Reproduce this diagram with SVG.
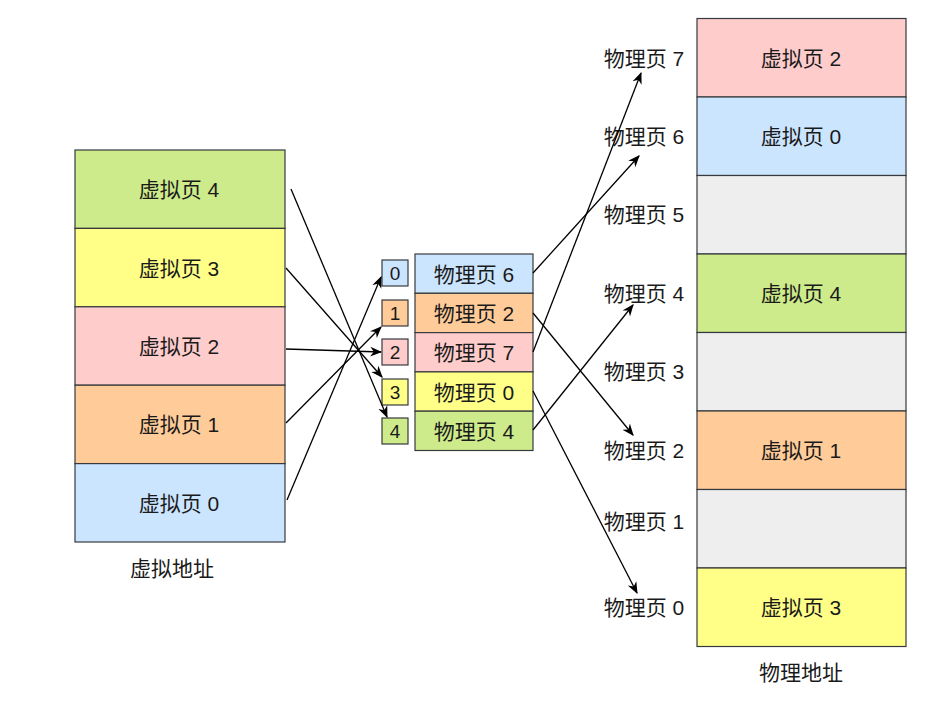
<svg xmlns="http://www.w3.org/2000/svg" width="940" height="703" viewBox="0 0 940 703">
<style>
text{font-family:"Liberation Sans","Noto Sans CJK SC",sans-serif;font-size:21px;fill:#1a1a1a;text-anchor:middle;dominant-baseline:central}
.s{font-size:19px}
rect{stroke:#36393d;stroke-width:1.2}
.g{fill:#cdeb8b}.y{fill:#ffff88}.p{fill:#ffcccc}.o{fill:#ffcc99}.b{fill:#cce5ff}.e{fill:#eeeeee}
.c line{stroke:#000;stroke-width:1.3;marker-end:url(#a)}
</style>
<defs>
<marker id="a" viewBox="0 0 10 10" refX="9" refY="5" markerWidth="12" markerHeight="12" markerUnits="userSpaceOnUse" orient="auto">
<path d="M0,1 L10,5 L0,9 L3,5 Z" fill="#000"/>
</marker>
</defs>
<rect width="940" height="703" fill="#fff" style="stroke:none"/>
<g id="virtual">
<g id="v4"><rect class="g" x="75" y="150" width="210" height="78.4"/><text x="179" y="189">虚拟页 4</text></g>
<g id="v3"><rect class="y" x="75" y="228.4" width="210" height="78.4"/><text x="179" y="268">虚拟页 3</text></g>
<g id="v2"><rect class="p" x="75" y="306.8" width="210" height="78.4"/><text x="179" y="346">虚拟页 2</text></g>
<g id="v1"><rect class="o" x="75" y="385.2" width="210" height="78.4"/><text x="179" y="424">虚拟页 1</text></g>
<g id="v0"><rect class="b" x="75" y="463.6" width="210" height="78.4"/><text x="179" y="503">虚拟页 0</text></g>
<text x="172" y="568">虚拟地址</text>
</g>
<g id="index">
<g id="i0"><rect class="b" x="382" y="260" width="26" height="26"/><text class="s" x="395" y="273">0</text></g>
<g id="i1"><rect class="o" x="382" y="300" width="26" height="26"/><text class="s" x="395" y="313">1</text></g>
<g id="i2"><rect class="p" x="382" y="339" width="26" height="26"/><text class="s" x="395" y="352">2</text></g>
<g id="i3"><rect class="y" x="382" y="379" width="26" height="26"/><text class="s" x="395" y="392">3</text></g>
<g id="i4"><rect class="g" x="382" y="418" width="26" height="26"/><text class="s" x="395" y="431">4</text></g>
</g>
<g id="table">
<g id="t0"><rect class="b" x="415" y="254" width="118" height="39.3"/><text x="474" y="274">物理页 6</text></g>
<g id="t1"><rect class="o" x="415" y="293.3" width="118" height="39.3"/><text x="474" y="313">物理页 2</text></g>
<g id="t2"><rect class="p" x="415" y="332.6" width="118" height="39.3"/><text x="474" y="352">物理页 7</text></g>
<g id="t3"><rect class="y" x="415" y="371.9" width="118" height="39.3"/><text x="474" y="392">物理页 0</text></g>
<g id="t4"><rect class="g" x="415" y="411.2" width="118" height="39.3"/><text x="474" y="431">物理页 4</text></g>
</g>
<g id="physical">
<g id="p7"><rect class="p" x="697" y="18.5" width="209" height="78.5"/><text x="801" y="58">虚拟页 2</text></g>
<g id="p6"><rect class="b" x="697" y="97" width="209" height="78.5"/><text x="801" y="136">虚拟页 0</text></g>
<g id="p5"><rect class="e" x="697" y="175.5" width="209" height="78.5"/></g>
<g id="p4"><rect class="g" x="697" y="254" width="209" height="78.5"/><text x="801" y="293">虚拟页 4</text></g>
<g id="p3"><rect class="e" x="697" y="332.5" width="209" height="78.5"/></g>
<g id="p2"><rect class="o" x="697" y="411" width="209" height="78.5"/><text x="801" y="450">虚拟页 1</text></g>
<g id="p1"><rect class="e" x="697" y="489.5" width="209" height="78.5"/></g>
<g id="p0"><rect class="y" x="697" y="568" width="209" height="78.5"/><text x="801" y="607">虚拟页 3</text></g>
<text x="801" y="672">物理地址</text>
</g>
<g id="labels">
<text x="644" y="58">物理页 7</text>
<text x="644" y="136">物理页 6</text>
<text x="644" y="214">物理页 5</text>
<text x="644" y="293">物理页 4</text>
<text x="644" y="371">物理页 3</text>
<text x="644" y="450">物理页 2</text>
<text x="644" y="521">物理页 1</text>
<text x="644" y="607">物理页 0</text>
</g>
<g class="c" id="connectors">
<line x1="291" y1="189" x2="387" y2="417"/>
<line x1="286" y1="268" x2="382" y2="377"/>
<line x1="286" y1="349" x2="381" y2="352"/>
<line x1="286" y1="423" x2="381" y2="327"/>
<line x1="287" y1="500" x2="381" y2="277"/>
<line x1="533" y1="273" x2="639" y2="156"/>
<line x1="533" y1="352" x2="641" y2="73"/>
<line x1="533" y1="313" x2="633" y2="435"/>
<line x1="533" y1="391" x2="637" y2="593"/>
<line x1="533" y1="430" x2="633" y2="305"/>
</g>
</svg>
